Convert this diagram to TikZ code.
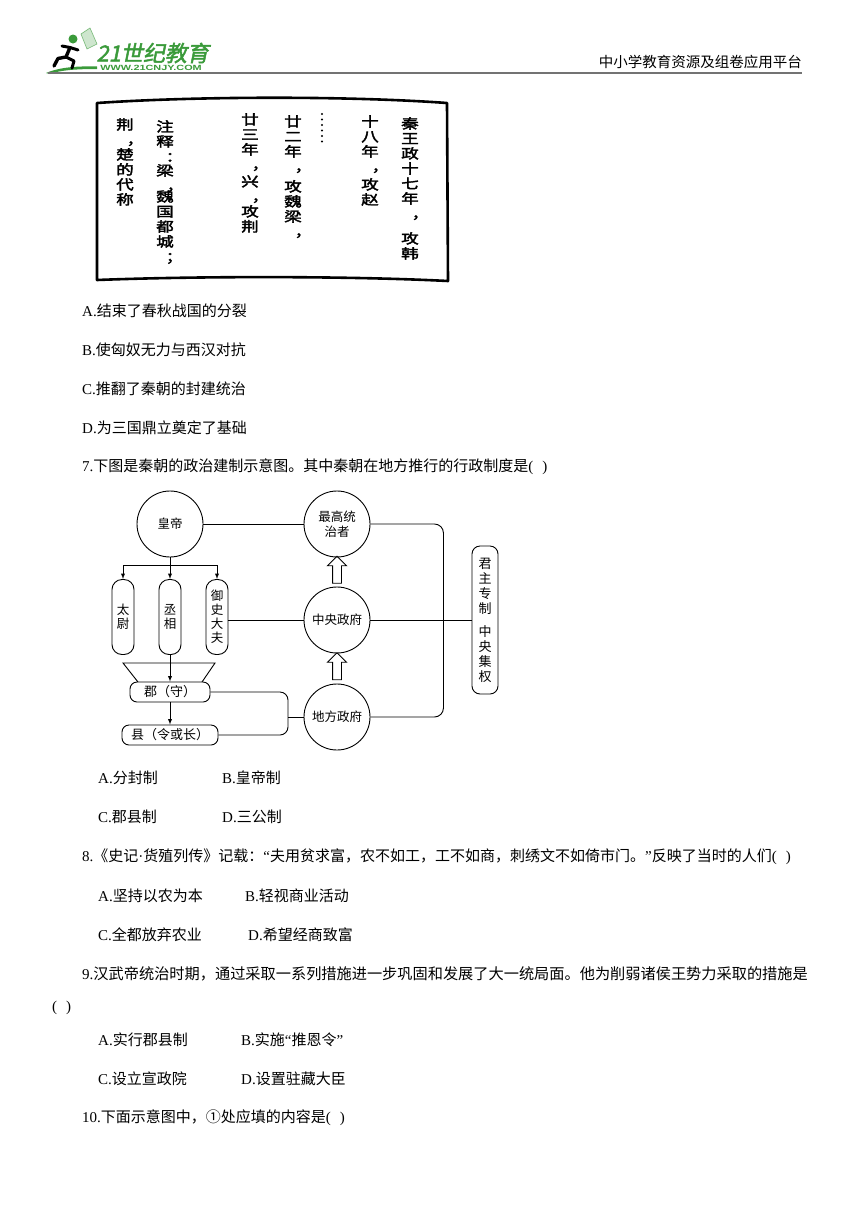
\documentclass[tikz,border=0pt]{standalone}
\usepackage{fontspec}
\setmainfont{Liberation Serif}
\newfontfamily\cjk{Noto Sans CJK SC}
\newfontfamily\slipfont[FakeStretch=1.3,FakeBold=2.6]{Noto Sans CJK SC}
\newfontfamily\logocjk[FakeBold=2]{Noto Sans CJK SC}
\newfontfamily\logofont{Liberation Sans}
\usetikzlibrary{calc,shapes.arrows}
\definecolor{logogreen}{HTML}{3A9A3A}
\newcommand\vd{\hbox to 0pt{\hspace{0.12em}，\hss}}
\newcommand\vc[1]{\hbox to 0pt{\hspace{0.05em}#1\hss}}
\tikzset{
  qline/.style={anchor=west,inner sep=0pt,font=\fontsize{15}{18}\selectfont},
  slip/.style={anchor=north,inner sep=0pt,align=center,font=\slipfont\fontsize{13.5}{15}\selectfont},
  ring/.style={circle,draw,line width=0.9pt,minimum size=66pt,inner sep=0pt,align=center,font=\cjk\fontsize{12.5}{15}\selectfont},
  pill/.style={draw,line width=0.9pt,rounded corners=10pt,minimum width=22pt,minimum height=75pt,inner sep=0pt,align=center,font=\cjk\fontsize{12.5}{14}\selectfont},
  tag/.style={draw,line width=0.9pt,rounded corners=7pt,minimum height=20pt,inner sep=0pt,font=\cjk\fontsize{13}{14}\selectfont},
  uparrow/.style={single arrow,draw,line width=0.9pt,shape border rotate=90,minimum height=27pt,inner sep=4pt,single arrow head extend=5pt}
}
\begin{document}
\begin{tikzpicture}[x=1pt,y=-1pt,>=latex]
\useasboundingbox[fill=white] (0,0) rectangle (860,1216);
% header
\fill[logogreen] (46,73) .. controls (60,67) and (78,66) .. (97,66.5) -- (97,69) .. controls (78,69) and (60,70) .. (50,74) -- cycle;
\fill[logogreen] (73,39) circle (4.5);
\draw[line width=3pt,line cap=round,line join=round] (62,46) -- (70,47.5) -- (78,50);
\draw[line width=3.4pt,line cap=round,line join=round] (70,47.5) -- (66,57) -- (58,58.5) -- (54,66);
\draw[line width=3pt,line cap=round,line join=round] (66,57) -- (74,61) -- (72,68);
\filldraw[fill=logogreen!25,draw=logogreen!70,line width=0.6pt] (81,34) -- (90,28) -- (97,44) -- (87,49) -- cycle;
\node[anchor=west,inner sep=0pt,text=logogreen,font=\logocjk\fontsize{22}{22}\selectfont,xslant=0.2] (logo) at (98,53) {21世纪教育};
\node[anchor=west,inner sep=0pt,text=logogreen,font=\logofont\bfseries\fontsize{7.5}{8}\selectfont,xscale=1.45] (url) at (100,68) {WWW.21CNJY.COM};
\draw[line width=2pt,gray!90!black] (48,72.5) -- (802,72.5);
\node[anchor=east,inner sep=0pt,font=\cjk\fontsize{14.5}{15}\selectfont] (site) at (802,62) {中小学教育资源及组卷应用平台};
% bamboo slip
\draw[line width=2.6pt,line join=round] (97,103) .. controls (200,96) and (350,96) .. (447,103) -- (448,281) .. controls (350,276) and (200,276) .. (97,280) -- cycle;
\node[slip] (s1) at (410,117) {秦\\王\\政\\十\\七\\年\\\vd\\[10pt]攻\\韩};
\node[slip] (s2) at (370,115) {十\\八\\年\\\vd\\[3pt]攻\\赵};
\foreach \k in {0,...,5} \fill (322,114+5.5*\k) circle (1.1pt);
\node[slip] (s4) at (293,115) {廿\\二\\年\\\vd\\[5pt]攻\\魏\\梁\\\vd};
\node[slip] (s5) at (250,113) {廿\\三\\年\\\vd\\[2pt]兴\\\vd\\攻\\荆};
\node[slip] (s6) at (165,120) {注\\释\\\vc{：}\\[-1pt]梁\\\vd\\[-4pt]魏\\国\\都\\城\\\vc{；}};
\node[slip] (s7) at (125,118) {荆\\\vd\\楚\\的\\代\\称};
% question 6 options
\node[qline] (q6a) at (82,311) {A.{\cjk 结束了春秋战国的分裂}};
\node[qline] (q6b) at (82,350) {B.{\cjk 使匈奴无力与西汉对抗}};
\node[qline] (q6c) at (82,389) {C.{\cjk 推翻了秦朝的封建统治}};
\node[qline] (q6d) at (82,428) {D.{\cjk 为三国鼎立奠定了基础}};
\node[qline] (q7) at (82,467) {7.{\cjk 下图是秦朝的政治建制示意图。其中秦朝在地方推行的行政制度是}(\hspace{9pt})};
% diagram
\node[ring] (hd) at (170,524) {皇帝};
\node[ring] (zg) at (337,524) {最高统\\治者};
\node[ring] (zy) at (337,620) {中央政府};
\node[ring] (df) at (337,717) {地方政府};
\node[uparrow] (up1) at ($(zy.north)!0.5!(zg.south)$) {};
\node[uparrow] (up2) at ($(df.north)!0.5!(zy.south)$) {};
\node[pill] (tw) at (123,617) {太\\尉};
\node[pill] (cx) at (170,617) {丞\\相};
\node[pill] (ys) at (217,617) {御\\史\\大\\夫};
\node[draw,line width=0.9pt,rounded corners=8pt,minimum width=26pt,minimum height=148pt,inner sep=0pt,align=center,font=\cjk\fontsize{13}{15}\selectfont] (jz) at (485,620) {君\\主\\专\\制\\[8pt]中\\央\\集\\权};
\node[tag,minimum width=80pt] (jun) at (170,692) {郡（守）};
\node[tag,minimum width=96pt] (xian) at (170,735) {县（令或长）};
\coordinate (fk) at (170,565);
\coordinate (br) at (288,717);
\begin{scope}[line width=0.9pt]
\draw (hd) -- (zg);
\draw[rounded corners=9pt] (zg.east) -- ++(73,0) |- (df.east);
\draw (zy) -- (jz);
\draw (ys.east |- zy.west) -- (zy.west);
\draw (hd.south) -- (fk);
\draw (fk -| tw) -- (fk -| ys);
\draw[->] (fk -| tw) -- (tw.north);
\draw[->] (fk) -- (cx.north);
\draw[->] (fk -| ys) -- (ys.north);
\draw (138,682) -- (123,663) -- (215,663) -- (202,682);
\draw[->] (cx.south) -- (jun.north);
\draw[->] (jun.south) -- (xian.north);
\draw[rounded corners=8pt] (jun.east) -| (br) |- (xian.east);
\draw (br) -- (df.west);
\end{scope}
% options and questions 8-10
\node[qline] (q7a) at (98,778) {A.{\cjk 分封制}};
\node[qline] (q7b) at (222,778) {B.{\cjk 皇帝制}};
\node[qline] (q7c) at (98,817) {C.{\cjk 郡县制}};
\node[qline] (q7d) at (222,817) {D.{\cjk 三公制}};
\node[qline] (q8) at (82,857) {8.{\cjk 《史记}·{\cjk 货殖列传》记载：}“{\cjk 夫用贫求富，农不如工，工不如商，刺绣文不如倚市门。}”{\cjk 反映了当时的人们}(\hspace{9pt})};
\node[qline] (q8a) at (98,896) {A.{\cjk 坚持以农为本}};
\node[qline] (q8b) at (245,896) {B.{\cjk 轻视商业活动}};
\node[qline] (q8c) at (98,935) {C.{\cjk 全都放弃农业}};
\node[qline] (q8d) at (248,935) {D.{\cjk 希望经商致富}};
\node[qline] (q9) at (82,974) {9.{\cjk\fontsize{15.2}{18}\selectfont 汉武帝统治时期，通过采取一系列措施进一步巩固和发展了大一统局面。他为削弱诸侯王势力采取的措施是}};
\node[qline] (q9p) at (52,1008) {(\hspace{9pt})};
\node[qline] (q9a) at (98,1040) {A.{\cjk 实行郡县制}};
\node[qline] (q9b) at (241,1040) {B.{\cjk 实施}“{\cjk 推恩令}”};
\node[qline] (q9c) at (98,1079) {C.{\cjk 设立宣政院}};
\node[qline] (q9d) at (241,1079) {D.{\cjk 设置驻藏大臣}};
\node[qline] (q10) at (82,1118) {10.{\cjk 下面示意图中，①处应填的内容是}(\hspace{9pt})};
\end{tikzpicture}
\end{document}
